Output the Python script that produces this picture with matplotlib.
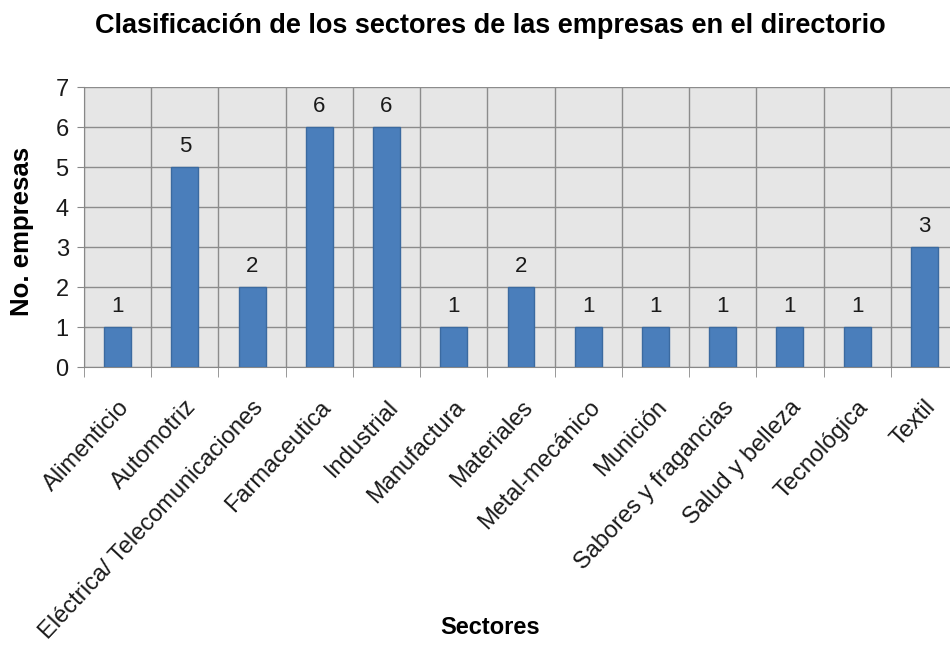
import matplotlib
matplotlib.use("Agg")
import matplotlib.pyplot as plt
import numpy as np
from matplotlib.ticker import FixedLocator, NullFormatter

plt.rcParams['font.family'] = ['Liberation Sans', 'DejaVu Sans']

sectores = ["Alimenticio", "Automotriz", "Eléctrica/ Telecomunicaciones", "Farmaceutica",
            "Industrial", "Manufactura", "Materiales", "Metal-mecánico", "Munición",
            "Sabores y fragancias", "Salud y belleza", "Tecnológica", "Textil"]
empresas = [1, 5, 2, 6, 6, 1, 2, 1, 1, 1, 1, 1, 3]
y_ticks = [0, 1, 2, 3, 4, 5, 6, 7]

fig = plt.figure(figsize=(9.5, 6.45), dpi=100)
fig.patch.set_facecolor("white")
ax = fig.add_axes([84 / 950, (645 - 367) / 645, 874 / 950, 280 / 645])
ax.set_facecolor("#e6e6e6")

x = np.arange(len(sectores))
ax.bar(x, empresas, width=0.4, color="#4a7ebb", edgecolor="#3b6aa0",
       linewidth=1.0, zorder=3)

for xi, v in zip(x, empresas):
    ax.annotate(str(v), (xi, v), xytext=(0, 7), textcoords="offset points",
                ha="center", va="bottom", fontsize=16, color="#1a1a1a")

ax.set_xlim(-0.5, len(sectores) - 0.5)
ax.set_ylim(0, 7)
ax.set_yticks(y_ticks)
ax.tick_params(axis="y", labelsize=17, length=5, color="#888888", pad=6, labelcolor="#1a1a1a")

ax.set_xticks(x)
ax.set_xticklabels(sectores, rotation=47, ha="right", rotation_mode="anchor",
                   fontsize=17, color="#1a1a1a")
ax.tick_params(axis="x", which="major", length=0, pad=21)
ax.xaxis.set_minor_locator(FixedLocator(np.arange(-0.5, len(sectores), 1.0)))
ax.xaxis.set_minor_formatter(NullFormatter())
ax.tick_params(axis="x", which="minor", length=7, color="#888888")

ax.grid(axis="y", which="major", color="#8c8c8c", linewidth=1.0, zorder=1)
ax.grid(axis="x", which="minor", color="#8c8c8c", linewidth=1.0, zorder=1)
ax.set_axisbelow(True)
for side in ["top", "right"]:
    ax.spines[side].set_visible(False)
for side in ["left", "bottom"]:
    ax.spines[side].set_color("#888888")

fig.text(490 / 950, 1 - 26 / 645, "Clasificación de los sectores de las empresas en el directorio",
         ha="center", va="center", fontsize=19.5, fontweight="bold", color="#000000")
fig.text(22 / 950, 1 - 231 / 645, "No. empresas", rotation=90, ha="center", va="center",
         fontsize=18.5, fontweight="bold")
fig.text(490 / 950, 1 - 627 / 645, "Sectores", ha="center", va="center",
         fontsize=17, fontweight="bold")

fig.savefig("out.png", dpi=100)
